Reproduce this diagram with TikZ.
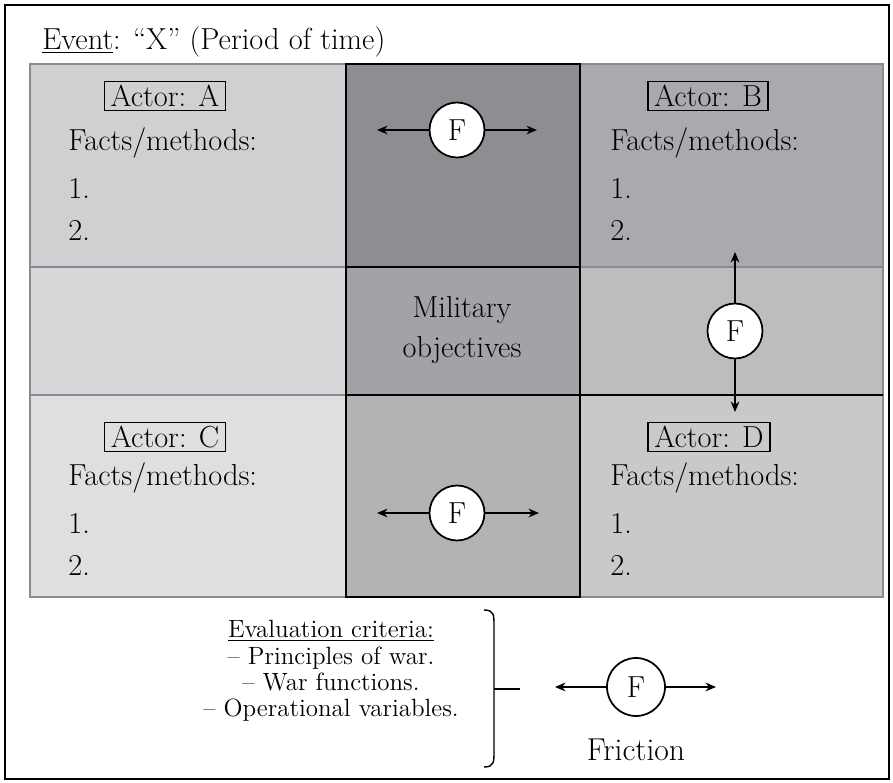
\documentclass[tikz,border=0pt]{standalone}
\usetikzlibrary{arrows.meta,positioning}

\definecolor{cellA}{HTML}{CFD0D2}
\definecolor{cellAB}{HTML}{8D8E91}
\definecolor{cellB}{HTML}{A9AAAD}
\definecolor{cellML}{HTML}{D7D8DA}
\definecolor{cellMM}{HTML}{A2A3A6}
\definecolor{cellMR}{HTML}{BCBDBF}
\definecolor{cellC}{HTML}{DEDFE1}
\definecolor{cellCD}{HTML}{B2B3B5}
\definecolor{cellD}{HTML}{C8C9CB}
\definecolor{gridline}{HTML}{8A8B8E}

\tikzset{
  bigtxt/.style={font=\fontsize{17.3}{20}\selectfont},
  actorbox/.style={draw, thick, bigtxt, inner xsep=3.5pt, inner ysep=2pt},
  factstxt/.style={bigtxt, anchor=west, inner sep=0pt},
  fcircle/.style={circle, draw, line width=1pt, fill=white, bigtxt, minimum size=1.1cm, inner sep=0pt},
  farrow/.style={thick, ->},
  cell/.style={draw=gridline, line width=0.6pt}
}

\begin{document}
\begin{tikzpicture}[x=0.02cm, y=-0.02cm, >={Stealth[length=6pt,width=5pt]}]

  \useasboundingbox (0,0) rectangle (893,783);

  % Moldura
  \draw[line width=1.2pt] (5,5) rectangle (889,779);

  % Titulo
  \node[bigtxt, anchor=west, inner sep=0pt] (title) at (42,42)
    {\underline{Event}: ``X'' (Period of time)};

  % Linhas e colunas da grade
  \def\xa{30}  \def\xb{346} \def\xc{580} \def\xd{883}
  \def\ya{64}  \def\yb{267} \def\yc{395} \def\yd{597}

  % Celulas
  \fill[cellA]  (\xa,\ya) rectangle (\xb,\yb);
  \fill[cellAB] (\xb,\ya) rectangle (\xc,\yb);
  \fill[cellB]  (\xc,\ya) rectangle (\xd,\yb);
  \fill[cellML] (\xa,\yb) rectangle (\xb,\yc);
  \fill[cellMM] (\xb,\yb) rectangle (\xc,\yc);
  \fill[cellMR] (\xc,\yb) rectangle (\xd,\yc);
  \fill[cellC]  (\xa,\yc) rectangle (\xb,\yd);
  \fill[cellCD] (\xb,\yc) rectangle (\xc,\yd);
  \fill[cellD]  (\xc,\yc) rectangle (\xd,\yd);

  % Bordas
  \draw[cell] (\xa,\ya) rectangle (\xd,\yd);
  \draw[cell] (\xa,\yb) -- (\xd,\yb);
  \draw[cell] (\xa,\yc) -- (\xd,\yc);
  \draw[line width=0.8pt] (\xb,\ya) rectangle (\xc,\yd);
  \draw[line width=0.8pt] (\xb,\yb) -- (\xc,\yb);
  \draw[line width=0.8pt] (\xb,\yc) -- (\xd,\yc);

  % Atores
  \foreach \nm/\cx/\cy in {A/165/96, B/708/96, C/165/437, D/709/437} {
    \node[actorbox] (actor-\nm) at (\cx,\cy) {Actor: \nm};
  }
  \foreach \nm/\lx/\ly in {A/68/143, B/610/143, C/68/478, D/610/478} {
    \node[factstxt] (facts-\nm) at (\lx,\ly) {Facts/methods:};
    \node[factstxt] (one-\nm) at (\lx,\ly+45) {1.};
    \node[factstxt] (two-\nm) at (\lx,\ly+87) {2.};
  }

  % Objetivos
  \node[align=center, font=\fontsize{17.3}{23}\selectfont] (obj) at (462,330)
    {Military\\objectives};

  % Friccao
  \node[fcircle] (fTop) at (457,130) {F};
  \coordinate (fTopL) at (377,130);
  \coordinate (fTopR) at (537,130);
  \draw[farrow] (fTop) -- (fTopL);
  \draw[farrow] (fTop) -- (fTopR);

  \node[fcircle] (fRight) at (735,331) {F};
  \coordinate (fRightU) at (735,252);
  \coordinate (fRightD) at (735,412);
  \draw[farrow] (fRight) -- (fRightU);
  \draw[farrow] (fRight) -- (fRightD);

  \node[fcircle] (fBot) at (457,513) {F};
  \coordinate (fBotL) at (377,513);
  \coordinate (fBotR) at (539,513);
  \draw[farrow] (fBot) -- (fBotL);
  \draw[farrow] (fBot) -- (fBotR);

  % Criterios
  \node[align=center, font=\fontsize{14.2}{15}\selectfont] (crit) at (331,671)
    {\underline{Evaluation criteria:}\\-- Principles of war.\\-- War functions.\\-- Operational variables.};

  % Chave
  \draw[thick] (484,610) .. controls (494,610) and (494,615) .. (494,625)
    -- (494,752) .. controls (494,762) and (494,767) .. (484,767);
  \coordinate (brace) at (494,689);
  \coordinate (braceR) at (520,689);
  \draw[thick] (brace) -- (braceR);

  % Legenda
  \node[fcircle, minimum size=1.16cm] (fLeg) at (636,687) {F};
  \coordinate (fLegL) at (555,687);
  \coordinate (fLegR) at (716,687);
  \draw[farrow] (fLeg) -- (fLegL);
  \draw[farrow] (fLeg) -- (fLegR);
  \node[font=\fontsize{18}{20}\selectfont] (fric) at (636,750) {Friction};

\end{tikzpicture}
\end{document}
